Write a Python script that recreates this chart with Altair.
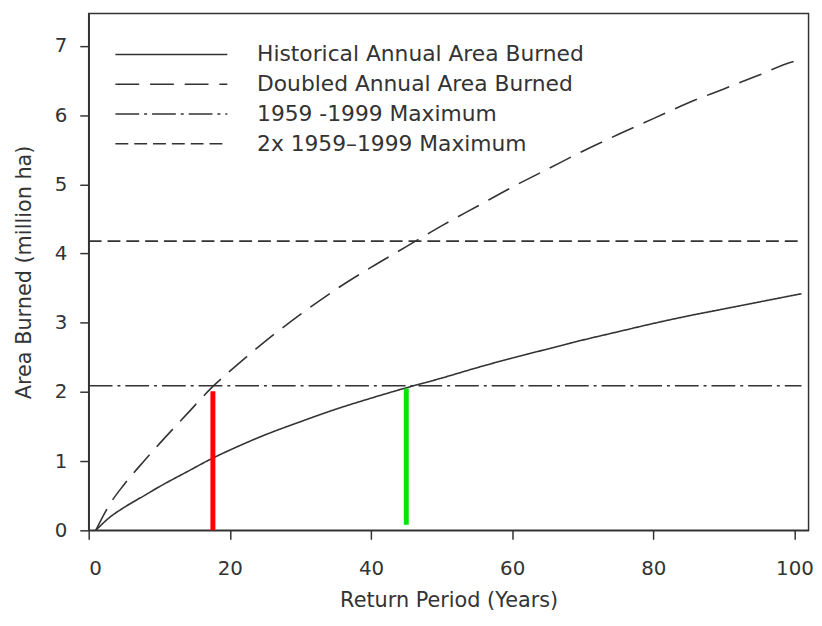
import altair as alt
import pandas as pd

# ---- data ----
years = [1, 3, 5, 8, 10, 14, 17.5, 20, 25, 30, 35, 40, 45, 50, 55, 60, 65, 70,
         75, 80, 85, 90, 95, 100, 101]
historical = [0.0, 0.19, 0.33, 0.51, 0.63, 0.85, 1.04, 1.16, 1.38, 1.57, 1.75, 1.91,
              2.06, 2.2, 2.35, 2.49, 2.62, 2.75, 2.87, 2.99, 3.1, 3.2, 3.3, 3.4, 3.42]
doubled = [0.0, 0.38, 0.66, 1.02, 1.25, 1.69, 2.07, 2.3, 2.73, 3.12, 3.48, 3.8,
           4.1, 4.4, 4.68, 4.96, 5.22, 5.48, 5.72, 5.95, 6.18, 6.38, 6.58, 6.78, 6.8]

series_names = ["Historical Annual Area Burned",
                "Doubled Annual Area Burned",
                "1959 -1999 Maximum",
                "2x 1959\u20131999 Maximum"]

ref_span = [0, 101]
max_1959_1999 = 2.09
max_2x = 4.18

bar_x = [17.6, 45.0]
bar_lo = [0.0, 0.08]
bar_hi = [2.01, 2.05]
bar_colors = ["#ff0000", "#00e600"]

x_ticks = [0, 20, 40, 60, 80, 100]
y_ticks = [0, 1, 2, 3, 4, 5, 6, 7]

# ---- tables ----
rows = []
for x, v in zip(years, historical):
    rows.append({"x": x, "y": v, "series": series_names[0]})
for x, v in zip(years, doubled):
    rows.append({"x": x, "y": v, "series": series_names[1]})
for x in ref_span:
    rows.append({"x": x, "y": max_1959_1999, "series": series_names[2]})
    rows.append({"x": x, "y": max_2x, "series": series_names[3]})
df = pd.DataFrame(rows)

bars_df = pd.DataFrame({"x": bar_x, "lo": bar_lo, "hi": bar_hi, "color": bar_colors})

FONT = "DejaVu Sans"
INK = "#333333"
dash_range = [[1, 0], [24, 11], [24, 5, 3, 5], [13, 6]]

xscale = alt.Scale(domain=[0, 102], nice=False, zero=False)
yscale = alt.Scale(domain=[0, 7.47], nice=False)

lines = alt.Chart(df).mark_line(color=INK, strokeWidth=1.6, interpolate="monotone").encode(
    x=alt.X("x:Q", scale=xscale,
            axis=alt.Axis(values=x_ticks, format="d", title="Return Period (Years)")),
    y=alt.Y("y:Q", scale=yscale,
            axis=alt.Axis(values=y_ticks, format="d", title="Area Burned (million ha)")),
    strokeDash=alt.StrokeDash(
        "series:N",
        sort=series_names,
        scale=alt.Scale(domain=series_names, range=dash_range),
        legend=alt.Legend(
            title=None, orient="none", legendX=71, legendY=29,
            symbolType="M-5,0H5", symbolSize=511, symbolStrokeWidth=1.6,
            symbolStrokeColor=INK, symbolFillColor="transparent",
            labelFont=FONT, labelFontSize=22,
            labelColor=INK, labelOffset=74, rowPadding=6, padding=0,
            labelLimit=0,
        ),
    ),
    order="x:Q",
)

bars = alt.Chart(bars_df).mark_rule(strokeWidth=5).encode(
    x=alt.X("x:Q", scale=xscale),
    y=alt.Y("lo:Q", scale=yscale),
    y2="hi:Q",
    color=alt.Color("color:N", scale=None),
)

chart = alt.layer(lines, bars).properties(
    width=727, height=522,
    autosize=alt.AutoSizeParams(type="none"),
    padding={"left": 81.5, "top": 2.5, "right": 5.5, "bottom": 85.5},
).configure_view(
    stroke=INK, strokeWidth=1.5
).configure_axis(
    grid=False, domainColor=INK, domainWidth=1.5, tickColor=INK, tickWidth=1.5,
    tickSize=9, labelFont=FONT, labelFontSize=20, labelColor=INK,
    titleFont=FONT, titleFontSize=21, titleFontWeight="normal", titleColor=INK,
).configure_axisX(
    labelPadding=20, titlePadding=11,
).configure_axisY(
    labelPadding=13, titlePadding=20,
)

chart.save("out.html", embed_options={"renderer": "svg", "actions": False})
